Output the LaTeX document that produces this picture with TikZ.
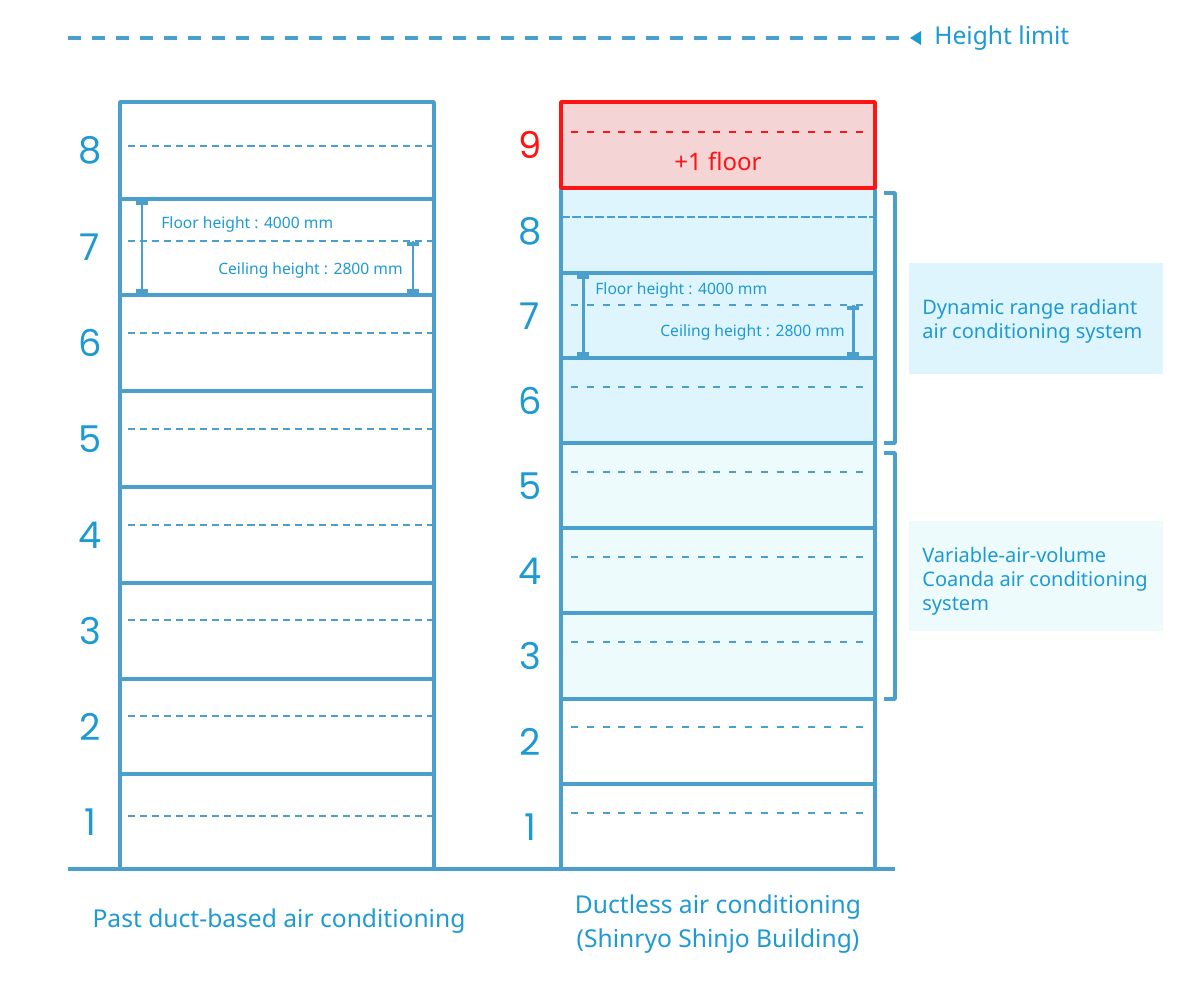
\documentclass[tikz,border=0pt]{standalone}
\usepackage{fontspec}
\setmainfont{Noto Sans}
\newfontfamily\numfont{Poppins}
\definecolor{bldline}{HTML}{4A9FCC}
\definecolor{bldtext}{HTML}{1E9AD2}
\definecolor{radfill}{HTML}{DFF5FD}
\definecolor{cofill}{HTML}{EEFBFC}
\definecolor{addfill}{HTML}{F4D4D4}
\definecolor{addred}{HTML}{FF1414}
\begin{document}
\begin{tikzpicture}[x=0.02cm, y=-0.02cm, line join=round,
	font=\fontsize{14}{19}\selectfont,
	wall/.style={bldline, line width=2pt},
	ceil/.style={bldline, line width=0.8pt, dash pattern=on 4pt off 2.8pt},
	ceilr/.style={bldline, line width=0.8pt, dash pattern=on 4pt off 5pt},
	limit/.style={bldline, line width=2pt, dash pattern=on 7.4pt off 6.3pt},
	flnum/.style={text=bldtext, font=\numfont\fontsize{21}{21}\selectfont, inner sep=0pt},
	dimbar/.style={bldline, line width=1.7pt},
	dimcap/.style={bldline, line width=2.4pt},
	dimtext/.style={text=bldtext, font=\fontsize{8.9}{11}\selectfont, inner sep=0pt},
	lbl/.style={text=bldtext, align=center},
	systext/.style={anchor=west, inner sep=0pt, align=left, text=bldtext,
		font=\fontsize{11.4}{13.7}\selectfont}]
	\useasboundingbox (0,0) rectangle (1200,1004);
	% height limit
	\coordinate (limstart) at (68,38);
	\coordinate (limend) at (899,38);
	\draw[limit] (limstart) -- (limend);
	\fill[bldtext] (910,38) -- (921,31) -- (921,45) -- cycle;
	\node[lbl, anchor=west, inner sep=0pt] (limlbl) at (934,38) {Height limit};
	% past building
	\foreach \y in {199,295,391,487,583,679,774}
		\draw[wall] (120,\y) -- (434,\y);
	\foreach \y in {146,241,333,429,525,620,716,816}
		\draw[ceil] (128,\y) -- (434,\y);
	\draw[wall] (120,869) |- (434,102) -- (434,869);
	\foreach \n/\y in {8/150,7/247,6/343,5/439,4/535,3/631,2/727,1/822}
		\node[flnum] (p\n) at (90,\y) {\n};
	\coordinate (pft) at (142,199);
	\coordinate (pfb) at (142,295);
	\coordinate (pct) at (413,241);
	\coordinate (pcb) at (413,295);
	\draw[dimbar] (pft) -- (pfb);
	\draw[dimbar] (pct) -- (pcb);
	\node[dimtext, anchor=west] (pfh) at (161,224) {Floor height : 4000 mm};
	\node[dimtext, anchor=east] (pch) at (403,270) {Ceiling height : 2800 mm};
	% ductless building
	\fill[radfill] (561,188) rectangle (875,443);
	\fill[cofill] (561,443) rectangle (875,699);
	\foreach \y in {273,358,443,528,613,699,784}
		\draw[wall] (561,\y) -- (875,\y);
	\foreach \y in {305,387,472,557,642,727,813}
		\draw[ceilr] (571,\y) -- (867,\y);
	\draw[bldline, line width=0.8pt, dash pattern=on 5pt off 1.5pt] (561,217) -- (875,217);
	\draw[wall] (561,188) -- (561,869);
	\draw[wall] (875,188) -- (875,869);
	\draw[addred, line width=2pt, fill=addfill] (561,102) rectangle (875,188);
	\draw[addred, line width=0.8pt, dash pattern=on 4pt off 5pt] (571,132) -- (867,132);
	\node[text=addred, font=\fontsize{13.7}{16}\selectfont] (plusone) at (718,161) {+1 floor};
	\node[flnum, text=addred] (d9) at (530,145) {9};
	\foreach \n/\y in {8/231,7/316,6/401,5/486,4/571,3/656,2/742,1/827}
		\node[flnum] (d\n) at (530,\y) {\n};
	\coordinate (dft) at (583,273);
	\coordinate (dfb) at (583,358);
	\coordinate (dct) at (853,305);
	\coordinate (dcb) at (853,358);
	\draw[dimbar] (dft) -- (dfb);
	\draw[dimbar] (dct) -- (dcb);
	\node[dimtext, anchor=west] (dfh) at (595,290) {Floor height : 4000 mm};
	\node[dimtext, anchor=east] (dch) at (845,332) {Ceiling height : 2800 mm};
	% bar caps of the height marks
	\foreach \x/\y in {142/203,142/291,413/244,413/291,583/277,583/354,853/308,853/354}
		\draw[dimcap] (\x-6,\y) -- (\x+6,\y);
	% ground
	\draw[bldline, line width=2.3pt] (68,869) -- (895,869);
	% system brackets
	\draw[wall] (884,193) -- (895,193) -- (895,443) -- (884,443);
	\draw[wall] (884,453) -- (895,453) -- (895,699) -- (884,699);
	\fill[radfill] (909,263) rectangle (1163,374);
	\fill[cofill] (909,521) rectangle (1163,631);
	\node[systext] (radlbl) at (922,321)
		{Dynamic range radiant\\air conditioning system};
	\node[systext] (colbl) at (922,581)
		{Variable-air-volume\\Coanda air conditioning\\system};
	% captions
	\node[lbl] (pastlbl) at (279,921) {Past duct-based air conditioning};
	\node[lbl] (newlbl) at (718,924) {Ductless air conditioning\\(Shinryo Shinjo Building)};
\end{tikzpicture}
\end{document}
